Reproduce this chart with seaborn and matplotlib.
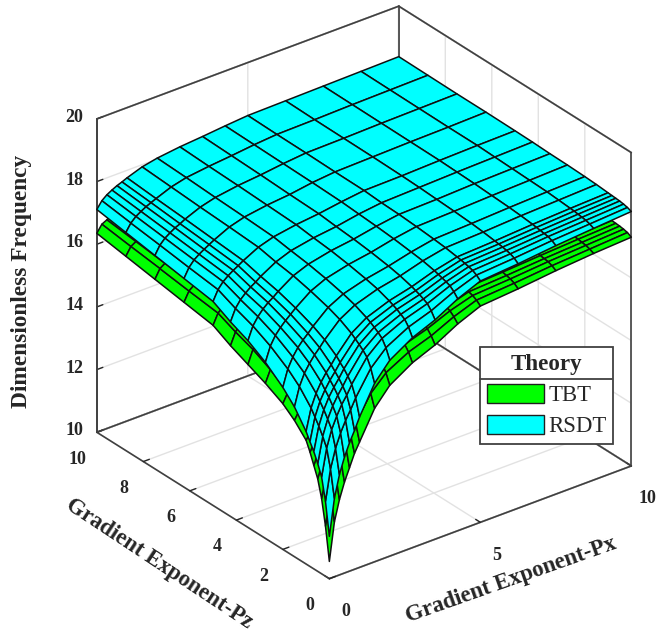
import numpy as np
import matplotlib
matplotlib.use("Agg")
import matplotlib.pyplot as plt
from matplotlib.lines import Line2D
from matplotlib.patches import Patch
import seaborn as sns

grad_px = [0, .167, .333, .5, .667, .833, 1, 1.5, 2, 2.75, 3.5, 4.25, 5, 6.25, 7.5, 8.75, 10]
grad_pz = [0, .167, .333, .5, .667, .833, 1, 1.5, 2, 2.75, 3.5, 4.25, 5, 6.25, 7.5, 8.75, 10]

# rows: Pz, columns: Px
rsdt = [
    [11.35,12.50,13.20,13.70,14.10,14.43,14.80,15.70,16.25,16.70,17.00,17.40,17.70,17.80,17.93,18.03,18.12],
    [12.39,13.37,13.97,14.40,14.74,15.02,15.34,16.10,16.57,16.96,17.21,17.55,17.81,17.90,18.01,18.09,18.17],
    [13.09,13.96,14.49,14.86,15.17,15.41,15.69,16.37,16.79,17.13,17.36,17.66,17.88,17.96,18.06,18.13,18.20],
    [13.44,14.25,14.74,15.10,15.38,15.61,15.87,16.51,16.90,17.21,17.43,17.71,17.92,17.99,18.08,18.15,18.22],
    [13.74,14.50,14.96,15.30,15.56,15.78,16.03,16.62,16.99,17.29,17.49,17.75,17.95,18.02,18.10,18.17,18.23],
    [13.98,14.71,15.15,15.46,15.71,15.92,16.15,16.72,17.07,17.35,17.54,17.79,17.98,18.04,18.12,18.19,18.24],
    [14.23,14.92,15.33,15.63,15.87,16.06,16.28,16.82,17.14,17.41,17.59,17.83,18.00,18.06,18.14,18.20,18.25],
    [14.78,15.37,15.74,15.99,16.20,16.37,16.56,17.03,17.31,17.55,17.70,17.91,18.06,18.11,18.18,18.23,18.28],
    [15.17,15.70,16.02,16.26,16.44,16.59,16.76,17.18,17.43,17.64,17.78,17.96,18.10,18.15,18.21,18.26,18.30],
    [15.62,16.08,16.36,16.55,16.71,16.85,16.99,17.35,17.57,17.75,17.87,18.03,18.15,18.19,18.24,18.28,18.32],
    [15.96,16.37,16.61,16.79,16.93,17.04,17.17,17.49,17.68,17.84,17.94,18.08,18.19,18.22,18.27,18.30,18.33],
    [16.21,16.58,16.80,16.95,17.08,17.18,17.30,17.58,17.76,17.90,17.99,18.12,18.21,18.25,18.29,18.32,18.35],
    [16.51,16.83,17.02,17.15,17.26,17.35,17.45,17.70,17.85,17.97,18.05,18.16,18.25,18.27,18.31,18.34,18.36],
    [16.66,16.95,17.13,17.25,17.35,17.44,17.53,17.76,17.90,18.01,18.08,18.19,18.26,18.29,18.32,18.34,18.37],
    [16.81,17.08,17.24,17.35,17.45,17.52,17.61,17.81,17.94,18.05,18.12,18.21,18.28,18.30,18.33,18.35,18.37],
    [16.96,17.20,17.35,17.45,17.54,17.61,17.68,17.87,17.99,18.08,18.15,18.23,18.29,18.31,18.34,18.36,18.38],
    [17.11,17.33,17.46,17.55,17.63,17.69,17.76,17.93,18.03,18.12,18.18,18.25,18.31,18.33,18.35,18.37,18.39],
]
tbt = [
    [10.55,11.75,12.40,12.90,13.30,13.70,14.00,14.90,15.45,15.90,16.20,16.60,16.90,17.00,17.13,17.23,17.30],
    [11.60,12.62,13.17,13.60,13.94,14.22,14.54,15.30,15.77,16.16,16.41,16.75,17.01,17.10,17.21,17.29,17.37],
    [12.40,13.21,13.69,14.06,14.37,14.61,14.89,15.57,15.99,16.33,16.56,16.86,17.08,17.16,17.26,17.33,17.40],
    [12.95,13.50,13.94,14.30,14.58,14.81,15.07,15.71,16.10,16.41,16.63,16.91,17.12,17.19,17.28,17.35,17.42],
    [13.30,13.75,14.16,14.50,14.76,14.98,15.23,15.82,16.19,16.49,16.69,16.95,17.15,17.22,17.30,17.37,17.43],
    [13.65,13.96,14.35,14.66,14.91,15.12,15.35,15.92,16.27,16.55,16.74,16.99,17.18,17.24,17.32,17.39,17.44],
    [13.95,14.17,14.53,14.83,15.07,15.26,15.48,16.02,16.34,16.61,16.79,17.03,17.20,17.26,17.34,17.40,17.45],
    [14.35,14.62,14.94,15.19,15.40,15.57,15.76,16.23,16.51,16.75,16.90,17.11,17.26,17.31,17.38,17.43,17.48],
    [14.65,14.95,15.22,15.46,15.64,15.79,15.96,16.38,16.63,16.84,16.98,17.16,17.30,17.35,17.41,17.46,17.50],
    [14.95,15.33,15.56,15.75,15.91,16.05,16.19,16.55,16.77,16.95,17.07,17.23,17.35,17.39,17.44,17.48,17.52],
    [15.20,15.62,15.81,15.99,16.13,16.24,16.37,16.69,16.88,17.04,17.14,17.28,17.39,17.42,17.47,17.50,17.53],
    [15.45,15.83,16.00,16.15,16.28,16.38,16.50,16.78,16.96,17.10,17.19,17.32,17.41,17.45,17.49,17.52,17.55],
    [15.75,16.08,16.22,16.35,16.46,16.55,16.65,16.90,17.05,17.17,17.25,17.36,17.45,17.47,17.51,17.54,17.56],
    [15.90,16.20,16.33,16.45,16.55,16.64,16.73,16.96,17.10,17.21,17.28,17.39,17.46,17.49,17.52,17.54,17.57],
    [16.05,16.33,16.44,16.55,16.65,16.72,16.81,17.01,17.14,17.25,17.32,17.41,17.48,17.50,17.53,17.55,17.57],
    [16.20,16.45,16.55,16.65,16.74,16.81,16.88,17.07,17.19,17.28,17.35,17.43,17.49,17.51,17.54,17.56,17.58],
    [16.35,16.58,16.66,16.75,16.83,16.89,16.96,17.13,17.23,17.32,17.38,17.45,17.51,17.53,17.55,17.57,17.59],
]
x_ticks = [0, 5, 10]
y_ticks = [0, 2, 4, 6, 8, 10]
z_ticks = [10, 12, 14, 16, 18, 20]
series_names = ["TBT", "RSDT"]

W, H = 662, 634
sns.set_theme(style="white", rc={"grid.color": "#e2e2e2", "grid.linewidth": 1.0})
plt.rcParams["font.family"] = ["Liberation Serif", "DejaVu Serif"]
palette = sns.color_palette(["#00ff00", "#00ffff"])
dark = "#404040"

fig = plt.figure(figsize=(W / 100, H / 100), dpi=100, facecolor="white")
ax = fig.add_axes([(355.5 - W / 2) / W, (H / 2 - 301) / H, 1, 1], projection="3d",
                  proj_type="ortho", computed_zorder=False)
ax.view_init(elev=29, azim=-127.6)
ax.set_box_aspect((1, 1, 0.94), zoom=0.991)
ax.set_xlim(0, 10, view_margin=0)
ax.set_ylim(0, 10, view_margin=0)
ax.set_zlim(10, 20, view_margin=0)

# box edges of the back walls, drawn above the pale grid and below the surfaces
xa, xb = ax.get_xlim()
ya, yb = ax.get_ylim()
za, zb = ax.get_zlim()
edges = [((xa, xb), (yb, yb), (zb, zb)), ((xb, xb), (ya, yb), (zb, zb)),
         ((xa, xb), (yb, yb), (za, za)), ((xb, xb), (ya, yb), (za, za)),
         ((xa, xa), (yb, yb), (za, zb)), ((xb, xb), (yb, yb), (za, zb)),
         ((xb, xb), (ya, ya), (za, zb))]
for ex, ey, ez in edges:
    ax.plot(ex, ey, ez, color=dark, lw=1.2, zorder=1)

X, Y = np.meshgrid(grad_px, grad_pz)
for z, col, zo in zip((tbt, rsdt), palette, (2, 3)):
    ax.plot_surface(X, Y, np.array(z), rstride=1, cstride=1, color=col, shade=False,
                    edgecolor="#101010", linewidth=1.1, antialiased=True, zorder=zo)

ax.set_xlim(xa, xb, view_margin=0)
ax.set_ylim(ya, yb, view_margin=0)
ax.set_zlim(za, zb, view_margin=0)
ax.set_xticks(x_ticks)
ax.set_yticks(y_ticks)
ax.set_zticks(z_ticks)
ax.grid(True)
for axis in (ax.xaxis, ax.yaxis, ax.zaxis):
    axis.pane.set_facecolor("white")
    axis.pane.set_edgecolor(dark)
    axis.pane.set_linewidth(1.2)
    axis.line.set_color(dark)
    axis.line.set_linewidth(1.2)
    axis._axinfo["tick"]["color"] = dark
    axis._axinfo["tick"]["linewidth"] = {True: 1.0, False: 1.0}
    axis._axinfo["tick"]["inward_factor"] = 0.0
    axis._axinfo["tick"]["outward_factor"] = 0.25
    for lab in axis.get_ticklabels():
        lab.set_fontweight("bold")
        lab.set_fontsize(13)
        lab.set_color("#262626")
        lab.set_verticalalignment("center")
        lab.set_horizontalalignment("center")
ax.tick_params(axis="x", pad=9)
ax.tick_params(axis="y", pad=7)
ax.tick_params(axis="z", pad=2)

lab_kw = dict(fontweight="bold", color="#262626", ha="center", va="center",
              rotation_mode="anchor")
fig.text(22 / W, 1 - 281 / H, "Dimensionless Frequency", rotation=90, fontsize=16.8, **lab_kw)
fig.text(159 / W, 1 - 564 / H, "Gradient Exponent-Pz", rotation=-33.5, fontsize=16.4, **lab_kw)
fig.text(511 / W, 1 - 580 / H, "Gradient Exponent-Px", rotation=19.5, fontsize=16.5, **lab_kw)

handles = [Patch(facecolor=c, edgecolor="#202020", linewidth=1.0, label=n)
           for c, n in zip(palette, series_names)]
leg = fig.legend(handles=handles, title="Theory", loc="upper left",
                 bbox_to_anchor=(480 / W, 1 - 347 / H), borderaxespad=0, fancybox=False,
                 edgecolor=dark, framealpha=1, prop={"size": 16.4},
                 title_fontproperties={"size": 16.6, "weight": "bold"},
                 handlelength=2.5, handleheight=0.88, handletextpad=0.2, labelspacing=0.4,
                 borderpad=0.3)
leg.get_frame().set_linewidth(1.3)
fig.add_artist(Line2D([480 / W, 612 / W], [1 - 379 / H, 1 - 379 / H], color=dark, lw=1.3,
                      transform=fig.transFigure, zorder=10))

fig.savefig("out.png", dpi=100)
